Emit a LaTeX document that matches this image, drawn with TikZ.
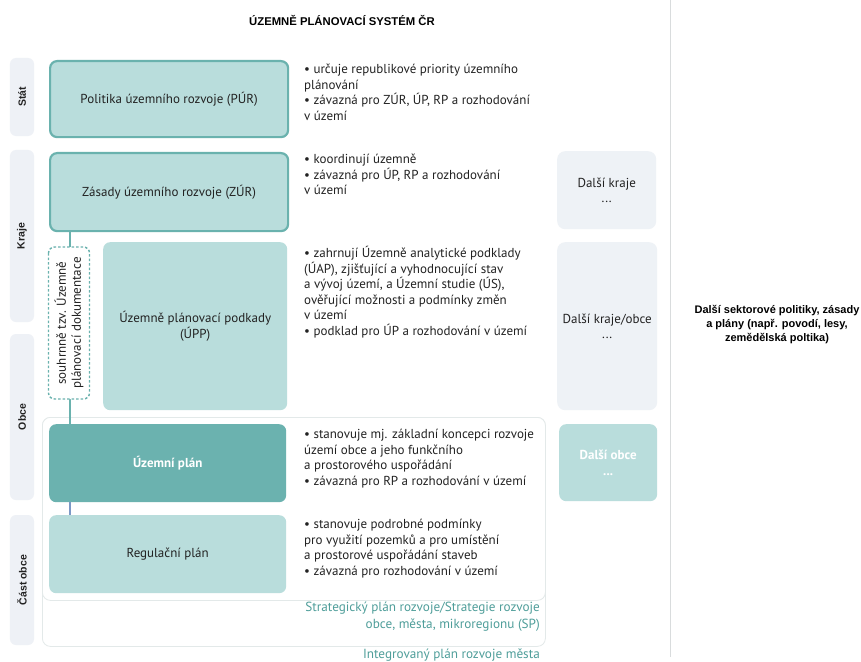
\documentclass[tikz,border=0pt]{standalone}
\usepackage{fontspec}
\setmainfont{PT Sans}
\newfontfamily\hdfont{Liberation Sans}
\definecolor{lteal}{HTML}{B9DDDC}
\definecolor{bteal}{HTML}{6AB2AE}
\definecolor{dteal}{HTML}{6BB2AF}
\definecolor{stripc}{HTML}{EEF1F6}
\definecolor{greyc}{HTML}{EEF2F6}
\definecolor{frc}{HTML}{E3E9E9}
\definecolor{sptext}{HTML}{4F9E9A}
\definecolor{txtc}{HTML}{222222}
\definecolor{bluel}{HTML}{7B98C6}
\definecolor{sepc}{HTML}{D9DCDD}
\tikzset{
  strip/.style={fill=stripc, rounded corners=6bp, draw=none, inner sep=0,
    font=\hdfont\fontsize{10.5bp}{13bp}\selectfont\bfseries, text=txtc},
  tealbox/.style={fill=lteal, draw=bteal, line width=2.2bp, rounded corners=7bp,
    anchor=north west, inner sep=0, font=\fontsize{13bp}{15.5bp}\selectfont, text=txtc, align=center},
  flatbox/.style={fill=lteal, rounded corners=7bp, draw=none,
    anchor=north west, inner sep=0, font=\fontsize{13bp}{15.5bp}\selectfont, text=txtc, align=center},
  darkbox/.style={fill=dteal, rounded corners=7bp, draw=none,
    anchor=north west, inner sep=0, font=\fontsize{13bp}{15.5bp}\selectfont\bfseries, text=white, align=center},
  greybox/.style={fill=greyc, rounded corners=8bp, draw=none,
    anchor=north west, inner sep=0, font=\fontsize{13bp}{15.5bp}\selectfont, text=txtc, align=center},
  bul/.style={anchor=north west, align=left, inner sep=0,
    font=\fontsize{13bp}{15.6bp}\selectfont, text=txtc},
  frame/.style={draw=frc, line width=0.8bp, fill=white, rounded corners=8bp, anchor=north west, inner sep=0},
  dashbox/.style={draw=bteal, dashed, line width=1.4bp, dash pattern=on 2.5bp off 2bp, fill=white,
    rounded corners=6bp, inner sep=0, align=center, font=\fontsize{13bp}{15bp}\selectfont, text=txtc},
  conn/.style={draw=bteal, line width=1.3bp},
  connb/.style={draw=bluel, line width=1.5bp},
  sptxt/.style={anchor=north east, align=right, inner sep=0, text=sptext,
    font=\fontsize{13.2bp}{17bp}\selectfont},
  hd/.style={font=\hdfont\fontsize{11bp}{14bp}\selectfont\bfseries, text=black, align=center, inner sep=0}
}
\begin{document}
\begin{tikzpicture}[x=1bp,y=-1bp]
\useasboundingbox[fill=white] (0,0) rectangle (861,662);

% title
\node[hd, font=\hdfont\fontsize{11.3bp}{14bp}\selectfont\bfseries] (title) at (342,20) {ÚZEMNĚ PLÁNOVACÍ SYSTÉM ČR};

% separator
\coordinate (septop) at (670,0);
\coordinate (sepbot) at (670,657);
\draw[sepc, line width=1bp] (septop) -- (sepbot);

% level strips
\node[strip, rotate=90, minimum width=78bp, minimum height=24bp] (sStat) at (22,97) {Stát};
\node[strip, rotate=90, minimum width=172bp, minimum height=24bp] (sKraje) at (22,236) {Kraje};
\node[strip, rotate=90, minimum width=166bp, minimum height=24bp] (sObce) at (22,417) {Obce};
\node[strip, rotate=90, minimum width=130bp, minimum height=24bp] (sCast) at (22,580) {Část obce};

% frames
\node[frame, minimum width=503bp, minimum height=229bp] (fSP) at (42,417) {};
\node[frame, minimum width=503bp, minimum height=183bp] (fIn) at (42,417) {};

% main boxes
\node[tealbox, minimum width=238bp, minimum height=76bp] (PUR) at (49,60) {Politika územního rozvoje (PÚR)};
\node[tealbox, minimum width=238bp, minimum height=78bp] (ZUR) at (49,152) {Zásady územního rozvoje (ZÚR)};
\node[flatbox, minimum width=184bp, minimum height=168bp] (UPP) at (103,242) {Územně plánovací podkady\\(ÚPP)};
\node[darkbox, minimum width=237bp, minimum height=78bp] (UP) at (49,424) {Územní plán};
\node[flatbox, minimum width=237bp, minimum height=78bp] (RP) at (49,515) {Regulační plán};

% connectors
\coordinate (lx) at (70,0);
\draw[conn] (ZUR.south -| lx) -- (UP.north -| lx);
\draw[connb] (UP.south -| lx) -- (RP.north -| lx);

\node[dashbox, rotate=90, minimum width=152bp, minimum height=41bp] (UPD) at (69,323) {souhrnně tzv. Územně\\plánovací dokumentace};

% bullets
\node[bul] (bPUR) at (304,64) {\textbullet{} určuje republikové priority územního\\plánování\\\textbullet{} závazná pro ZÚR, ÚP, RP a rozhodování\\v území};
\node[bul] (bZUR) at (304,154) {\textbullet{} koordinují územně\\\textbullet{} závazná pro ÚP, RP a rozhodování\\v území};
\node[bul] (bUPP) at (304,246) {\textbullet{} zahrnují Územně analytické podklady\\(ÚAP), zjišťující a vyhodnocující stav\\a vývoj území, a Územní studie (ÚS),\\ověřující možnosti a podmínky změn\\v území\\\textbullet{} podklad pro ÚP a rozhodování v území};
\node[bul] (bUP) at (304,429) {\textbullet{} stanovuje mj. základní koncepci rozvoje\\území obce a jeho funkčního\\a prostorového uspořádání\\\textbullet{} závazná pro RP a rozhodování v území};
\node[bul] (bRP) at (304,519) {\textbullet{} stanovuje podrobné podmínky\\pro využití pozemků a pro umístění\\a prostorové uspořádání staveb\\\textbullet{} závazná pro rozhodování v území};

% strategy labels
\node[sptxt] (tSP) at (540,602) {Strategický plán rozvoje/Strategie rozvoje\\obce, města, mikroregionu (SP)};
\node[sptxt] (tIP) at (540,649) {Integrovaný plán rozvoje města};

% other regions
\node[greybox, minimum width=99bp, minimum height=78bp] (DK) at (557,151) {Další kraje\\...};
\node[greybox, minimum width=100bp, minimum height=168bp] (DKO) at (557,242) {Další kraje/obce\\...};
\node[flatbox, text=white, font=\fontsize{13bp}{15.5bp}\selectfont\bfseries, minimum width=98bp, minimum height=77bp] (DO) at (559,424) {Další obce\\...};

% sectoral
\node[hd] (sect) at (777,325) {Další sektorové politiky, zásady\\a plány (např. povodí, lesy,\\zemědělská poltika)};
\end{tikzpicture}
\end{document}
